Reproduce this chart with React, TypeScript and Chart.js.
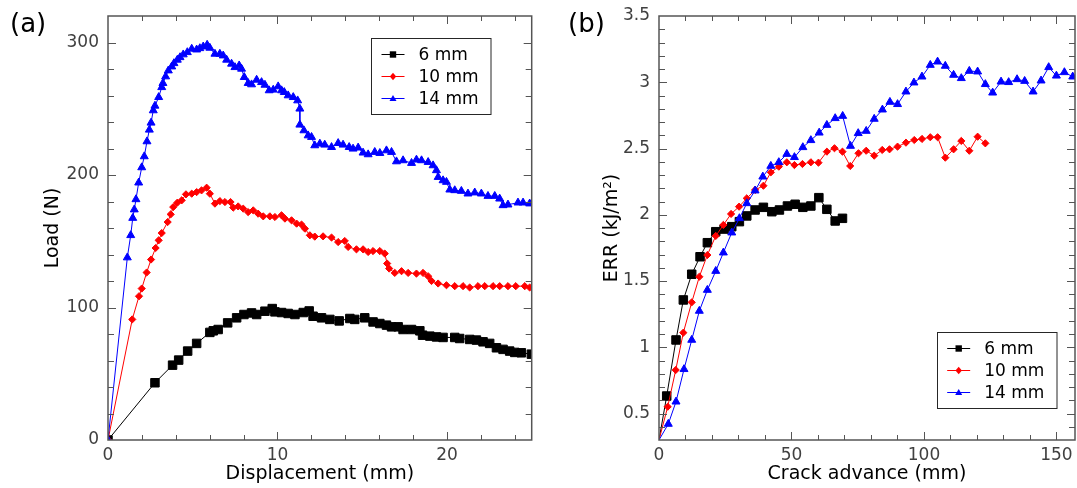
import React, { useEffect, useRef } from "react";
import { Chart, registerables } from "chart.js";

Chart.register(...registerables);

const FONT = "'DejaVu Sans', 'Liberation Sans', sans-serif";

// ---------- series meta ----------
const seriesLabels = ["6 mm", "10 mm", "14 mm"];
const seriesColors = ["#000000", "#ff0000", "#0000ff"];
const seriesMarkers = ["rect", "rectRot", "triangle"];
const markerRadius = [6, 3.6, 4.6];

// ---------- panel (a): load vs displacement ----------
const disp6 = [0, 2.77, 3.81, 4.17, 4.7, 5.23, 6.01, 6.21, 6.5, 7.06, 7.59, 8.02, 8.47, 8.77, 9.26, 9.69, 9.85, 10.24, 10.63, 11.03, 11.52, 11.87, 12.1, 12.6, 13.09, 13.64, 14.27, 14.56, 15.15, 15.64, 16.04, 16.43, 16.73, 17.12, 17.41, 17.91, 18.4, 18.56, 18.99, 19.38, 19.77, 20.46, 20.75, 21.34, 21.74, 22.13, 22.52, 22.92, 23.31, 23.7, 24.0, 24.39, 24.98];
const load6 = [0, 43.2, 56.5, 60.3, 67.1, 72.9, 81.2, 82.4, 83.4, 88.4, 92.2, 94.7, 95.9, 94.7, 97.2, 99.2, 96.7, 96.2, 95.5, 94.7, 96.2, 97.4, 93.4, 92.2, 91.0, 89.9, 91.7, 91.0, 92.2, 89.1, 87.9, 86.7, 85.4, 85.4, 83.4, 83.4, 82.4, 79.1, 78.4, 77.8, 77.4, 77.4, 76.6, 75.9, 75.4, 74.1, 72.9, 69.6, 68.4, 67.1, 66.1, 65.8, 64.8];

const disp10 = [0, 1.43, 1.83, 1.99, 2.28, 2.54, 2.81, 2.99, 3.17, 3.52, 3.7, 3.85, 4.09, 4.35, 4.6, 4.94, 5.23, 5.52, 5.82, 6.01, 6.31, 6.6, 6.9, 7.23, 7.39, 7.68, 7.98, 8.27, 8.57, 8.86, 9.16, 9.55, 9.85, 10.24, 10.44, 10.83, 11.13, 11.42, 11.62, 11.91, 12.2, 12.69, 13.19, 13.58, 13.97, 14.17, 14.66, 15.05, 15.35, 15.64, 16.04, 16.33, 16.47, 16.59, 16.92, 17.32, 17.71, 18.2, 18.59, 18.89, 19.09, 19.48, 19.97, 20.46, 20.95, 21.34, 21.83, 22.23, 22.72, 23.11, 23.6, 24.06, 24.59, 24.88];
const load10 = [0, 91.0, 108.5, 114.3, 126.4, 136.2, 144.9, 150.7, 156.2, 164.5, 170.3, 175.8, 179.1, 180.9, 185.4, 185.9, 187.1, 188.4, 190.4, 185.9, 178.4, 180.3, 179.6, 179.6, 175.4, 176.3, 174.6, 172.0, 173.3, 170.8, 168.8, 168.8, 168.3, 169.6, 167.1, 165.8, 163.3, 162.6, 159.5, 154.5, 153.5, 153.7, 152.8, 149.4, 150.2, 145.7, 143.9, 143.9, 141.9, 142.6, 142.6, 140.7, 133.2, 129.4, 126.1, 127.4, 126.1, 125.6, 126.1, 123.6, 120.0, 118.1, 116.8, 116.1, 116.1, 115.1, 116.1, 116.1, 116.1, 116.1, 116.1, 116.1, 116.1, 115.1];

const disp14 = [0, 1.14, 1.34, 1.46, 1.55, 1.65, 1.81, 1.99, 2.14, 2.3, 2.44, 2.54, 2.67, 2.77, 2.99, 3.17, 3.24, 3.4, 3.56, 3.76, 3.89, 4.09, 4.25, 4.44, 4.68, 4.94, 5.23, 5.42, 5.62, 5.85, 6.01, 6.31, 6.6, 6.8, 7.0, 7.29, 7.49, 7.74, 7.88, 8.04, 8.27, 8.47, 8.77, 9.06, 9.26, 9.51, 9.75, 10.04, 10.24, 10.4, 10.63, 10.93, 11.19, 11.32, 11.32, 11.56, 11.81, 12.01, 12.2, 12.5, 12.79, 13.19, 13.58, 13.87, 14.23, 14.46, 14.76, 15.05, 15.35, 15.74, 16.04, 16.43, 16.73, 17.02, 17.41, 17.91, 18.2, 18.5, 18.89, 19.18, 19.38, 19.48, 19.77, 19.97, 20.17, 20.46, 20.85, 21.24, 21.64, 22.03, 22.42, 22.82, 23.11, 23.31, 23.6, 24.19, 24.49, 24.88];
const load14 = [0, 137.7, 154.5, 167.5, 173.9, 181.6, 194.2, 205.7, 214.0, 225.3, 234.1, 239.4, 248.7, 252.2, 258.7, 266.2, 269.3, 274.3, 278.8, 281.8, 284.3, 286.9, 288.8, 290.9, 292.6, 295.2, 294.6, 295.6, 296.9, 298.2, 295.9, 291.4, 291.4, 290.1, 286.9, 283.9, 281.3, 282.6, 280.1, 273.8, 269.3, 268.3, 271.8, 270.0, 268.0, 263.8, 264.3, 266.8, 263.8, 262.5, 260.0, 258.7, 256.2, 250.0, 237.9, 233.6, 229.8, 228.6, 222.3, 223.6, 222.8, 221.0, 224.0, 222.8, 221.0, 219.8, 220.6, 216.8, 215.5, 217.3, 216.5, 218.5, 217.3, 210.2, 211.0, 209.0, 211.5, 211.0, 209.7, 207.2, 203.5, 198.4, 195.9, 194.7, 188.9, 188.4, 187.9, 185.9, 186.7, 185.9, 184.1, 184.1, 182.1, 177.1, 177.6, 179.1, 179.1, 178.4];

// ---------- panel (b): ERR vs crack advance ----------
const crack6 = [0, 2.91, 6.42, 9.18, 12.35, 15.49, 18.25, 21.42, 24.56, 27.46, 30.34, 33.13, 36.27, 39.4, 42.58, 45.45, 48.47, 51.38, 54.29, 57.31, 60.33, 63.35, 66.49, 69.25];
const err6 = [0.3, 0.632, 1.055, 1.357, 1.551, 1.683, 1.789, 1.872, 1.892, 1.91, 1.948, 1.991, 2.036, 2.056, 2.023, 2.036, 2.066, 2.079, 2.056, 2.066, 2.129, 2.041, 1.953, 1.973];

const crack10 = [0, 3.29, 6.31, 9.18, 12.35, 15.22, 18.25, 21.42, 24.29, 27.2, 30.22, 33.13, 36.27, 39.4, 42.2, 45.22, 48.24, 51.11, 54.14, 57.31, 60.18, 63.35, 66.23, 69.25, 72.16, 75.29, 78.2, 81.22, 84.25, 87.0, 90.03, 93.2, 96.34, 99.25, 102.38, 105.14, 108.05, 111.18, 114.09, 117.11, 120.25, 123.16];
const err10 = [0.3, 0.551, 0.828, 1.11, 1.339, 1.532, 1.696, 1.84, 1.923, 2.006, 2.061, 2.124, 2.187, 2.219, 2.32, 2.363, 2.396, 2.375, 2.383, 2.396, 2.393, 2.476, 2.502, 2.476, 2.368, 2.464, 2.483, 2.446, 2.489, 2.494, 2.514, 2.544, 2.564, 2.572, 2.585, 2.585, 2.431, 2.494, 2.557, 2.483, 2.589, 2.539];

const crack14 = [0, 3.51, 6.42, 9.44, 12.35, 15.22, 18.25, 21.42, 24.29, 27.46, 30.34, 33.13, 36.27, 39.18, 42.2, 45.22, 48.24, 51.11, 54.29, 57.31, 60.45, 63.35, 66.49, 69.32, 72.27, 75.18, 78.2, 81.22, 84.32, 87.15, 90.03, 93.2, 96.22, 99.25, 102.38, 105.14, 108.05, 111.18, 114.09, 117.11, 120.25, 123.16, 125.92, 129.09, 131.96, 135.13, 138.0, 141.18, 144.2, 147.07, 149.98, 153.0, 156.14];
const err14 = [0.3, 0.421, 0.589, 0.834, 1.055, 1.274, 1.432, 1.575, 1.714, 1.865, 1.973, 2.086, 2.182, 2.287, 2.368, 2.396, 2.458, 2.434, 2.509, 2.562, 2.619, 2.677, 2.728, 2.745, 2.519, 2.615, 2.632, 2.723, 2.793, 2.851, 2.834, 2.929, 2.997, 3.042, 3.13, 3.155, 3.123, 3.055, 3.03, 3.085, 3.08, 2.985, 2.921, 3.004, 3.0, 3.022, 3.009, 2.929, 3.012, 3.113, 3.049, 3.075, 3.042];

// ---------- axes ----------
const dispRange = [0, 25];
const dispTickLabels = [0, 10, 20];
const loadRange = [0, 320];
const loadTickLabels = [0, 100, 200, 300];
const crackRange = [0, 157];
const crackTickLabels = [0, 50, 100, 150];
const errRange = [0.3, 3.5];
const errTickLabels = [0.5, 1, 1.5, 2, 2.5, 3, 3.5];

const AXIS_COLOR = "#555555";
const TICK_COLOR = "#404040";

const toXY = (xs: number[], ys: number[]) => xs.map((x, i) => ({ x, y: ys[i] }));

function drawMarker(ctx: CanvasRenderingContext2D, kind: string, cx: number, cy: number, s: number) {
  ctx.beginPath();
  if (kind === "rect") {
    ctx.rect(cx - s, cy - s, 2 * s, 2 * s);
  } else if (kind === "rectRot") {
    ctx.moveTo(cx - s, cy);
    ctx.lineTo(cx, cy - s * 1.2);
    ctx.lineTo(cx + s, cy);
    ctx.lineTo(cx, cy + s * 1.2);
    ctx.closePath();
  } else {
    ctx.moveTo(cx, cy - s * 1.1);
    ctx.lineTo(cx + s * 1.1, cy + s * 0.8);
    ctx.lineTo(cx - s * 1.1, cy + s * 0.8);
    ctx.closePath();
  }
  ctx.fill();
}

const matlabAxes = {
  id: "matlabAxes",
  afterDatasetsDraw(chart: any, _args: any, opts: any) {
    const { ctx, chartArea } = chart;
    const { left, right, top, bottom } = chartArea;
    const xs = chart.scales.x;
    const ys = chart.scales.y;
    ctx.save();
    ctx.strokeStyle = AXIS_COLOR;
    ctx.lineWidth = 1;
    ctx.beginPath();
    xs.ticks.forEach((t: any) => {
      const p = xs.getPixelForValue(t.value);
      if (p <= left + 1 || p >= right - 1) return;
      const px = Math.round(p) + 0.5;
      const len = t.label !== "" ? 8 : 5;
      ctx.moveTo(px, bottom);
      ctx.lineTo(px, bottom - len);
      ctx.moveTo(px, top);
      ctx.lineTo(px, top + len);
    });
    ys.ticks.forEach((t: any) => {
      const p = ys.getPixelForValue(t.value);
      if (p <= top + 1 || p >= bottom - 1) return;
      const py = Math.round(p) + 0.5;
      const len = t.label !== "" ? 8 : 6;
      ctx.moveTo(left, py);
      ctx.lineTo(left + len, py);
      ctx.moveTo(right, py);
      ctx.lineTo(right - len, py);
    });
    ctx.stroke();
    ctx.lineWidth = 1.5;
    ctx.strokeRect(left, top, right - left, bottom - top);

    // legend
    const lx = opts.legendX;
    const ly = opts.legendY;
    const lw = 119.5;
    const lh = 76;
    ctx.fillStyle = "#ffffff";
    ctx.fillRect(lx, ly, lw, lh);
    ctx.strokeStyle = "#262626";
    ctx.lineWidth = 1;
    ctx.strokeRect(Math.round(lx) + 0.5, Math.round(ly) + 0.5, lw, lh);
    const rows = [16, 38, 60];
    ctx.font = `17px ${FONT}`;
    ctx.textBaseline = "middle";
    ctx.textAlign = "left";
    chart.data.datasets.forEach((ds: any, i: number) => {
      const cy = ly + rows[i];
      ctx.strokeStyle = seriesColors[i];
      ctx.beginPath();
      ctx.moveTo(lx + 10.5, Math.round(cy) + 0.5);
      ctx.lineTo(lx + 33.5, Math.round(cy) + 0.5);
      ctx.stroke();
      ctx.fillStyle = seriesColors[i];
      drawMarker(ctx, seriesMarkers[i], lx + 22, Math.round(cy) + 0.5, 3.2);
      ctx.fillStyle = "#000000";
      ctx.fillText(ds.label, lx + 47.5, cy + 1);
    });

    // panel label
    ctx.fillStyle = "#000000";
    ctx.font = `26px ${FONT}`;
    ctx.textBaseline = "middle";
    ctx.fillText(opts.panelLabel, opts.panelLabelX, 25);
    ctx.restore();
  },
};

// explicit tick list: every `step` from min up to max
const stepTicks = (min: number, max: number, step: number) => {
  const out: { value: number }[] = [];
  const n = Math.floor((max - min) / step + 1e-6);
  for (let k = 0; k <= n; k++) out.push({ value: Math.round((min + k * step) * 1e6) / 1e6 });
  return out;
};

function buildConfig(p: any): any {
  const datasets = seriesLabels.map((label, i) => ({
    label,
    data: toXY(p.xs[i], p.ys[i]),
    borderColor: seriesColors[i],
    backgroundColor: seriesColors[i],
    borderWidth: 1,
    pointStyle: seriesMarkers[i],
    pointRadius: p.hideFirst ? (c: any) => (c.dataIndex === 0 ? 0 : markerRadius[i]) : markerRadius[i],
    pointBorderWidth: 1,
    pointBorderColor: seriesColors[i],
    pointBackgroundColor: seriesColors[i],
    pointHoverRadius: markerRadius[i],
    tension: 0,
    fill: false,
    order: 2 - i,
  }));
  const near = (arr: number[], v: number) => arr.some((a) => Math.abs(a - v) < 1e-6);
  return {
    type: "line",
    data: { datasets },
    plugins: [matlabAxes],
    options: {
      animation: false,
      responsive: false,
      maintainAspectRatio: false,
      events: [],
      layout: { autoPadding: false, padding: { left: 0, top: 16, right: p.padRight, bottom: 0 } },
      plugins: {
        legend: { display: false },
        tooltip: { enabled: false },
        matlabAxes: { legendX: p.legendX, legendY: p.legendY, panelLabel: p.panelLabel, panelLabelX: p.panelLabelX },
      },
      scales: {
        x: {
          type: "linear",
          min: p.xRange[0],
          max: p.xRange[1],
          grid: { display: false, drawTicks: false },
          border: { display: false },
          afterBuildTicks: (s: any) => {
            s.ticks = stepTicks(p.xRange[0], p.xRange[1], p.xStep);
          },
          afterFit: (s: any) => {
            s.height = 48;
            s.paddingLeft = 0;
            s.paddingRight = 0;
          },
          ticks: {
            autoSkip: false,
            maxRotation: 0,
            padding: 5,
            color: TICK_COLOR,
            font: { family: FONT, size: 17 },
            callback: (v: any) => (near(p.xLabels, v) ? String(Math.round(v * 10) / 10) : ""),
          },
          title: {
            display: true,
            text: p.xTitle,
            color: "#000000",
            font: { family: FONT, size: 19 },
            padding: { top: 0, bottom: 2.6 },
          },
        },
        y: {
          type: "linear",
          min: p.yRange[0],
          max: p.yRange[1],
          grid: { display: false, drawTicks: false },
          border: { display: false },
          afterBuildTicks: (s: any) => {
            s.ticks = stepTicks(p.yRange[0], p.yRange[1], p.yStep);
          },
          afterFit: (s: any) => {
            s.width = p.yAxisWidth;
            s.paddingTop = 0;
            s.paddingBottom = 0;
          },
          ticks: {
            autoSkip: false,
            padding: 9,
            color: TICK_COLOR,
            font: { family: FONT, size: 17 },
            callback: (v: any) => (near(p.yLabels, v) ? String(Math.round(v * 10) / 10) : ""),
          },
          title: {
            display: true,
            text: p.yTitle,
            color: "#000000",
            font: { family: FONT, size: 19 },
            padding: { top: p.yTitlePad, bottom: 0 },
          },
        },
      },
    },
  };
}

const panelA = {
  xs: [disp6, disp10, disp14],
  ys: [load6, load10, load14],
  hideFirst: false,
  xRange: dispRange,
  yRange: loadRange,
  xStep: 2,
  yStep: 20,
  xLabels: dispTickLabels,
  yLabels: loadTickLabels,
  xTitle: "Displacement (mm)",
  yTitle: "Load (N)",
  yAxisWidth: 108,
  yTitlePad: 42,
  padRight: 28.3,
  legendX: 371,
  legendY: 38.3,
  panelLabel: "(a)",
  panelLabelX: 10,
};

const panelB = {
  xs: [crack6, crack10, crack14],
  ys: [err6, err10, err14],
  hideFirst: true,
  xRange: crackRange,
  yRange: errRange,
  xStep: 10,
  yStep: 0.1,
  xLabels: crackTickLabels,
  yLabels: errTickLabels,
  xTitle: "Crack advance (mm)",
  yTitle: "ERR (kJ/m\u00B2)",
  yAxisWidth: 99,
  yTitlePad: 40.3,
  padRight: 2,
  legendX: 376.7,
  legendY: 332.3,
  panelLabel: "(b)",
  panelLabelX: 8,
};

function Panel({ spec, left, width }: { spec: any; left: number; width: number }) {
  const ref = useRef<HTMLCanvasElement>(null);
  useEffect(() => {
    if (!ref.current) return;
    const chart = new Chart(ref.current, buildConfig(spec));
    return () => chart.destroy();
  }, [spec]);
  return (
    <canvas
      ref={ref}
      width={width}
      height={488}
      style={{ position: "absolute", left, top: 0, width, height: 488, display: "block" }}
    />
  );
}

export default function App() {
  return (
    <div style={{ position: "absolute", left: 0, top: 0, width: 1077, height: 488, background: "#ffffff", overflow: "hidden" }}>
      <Panel spec={panelA} left={0} width={560} />
      <Panel spec={panelB} left={560} width={517} />
    </div>
  );
}
